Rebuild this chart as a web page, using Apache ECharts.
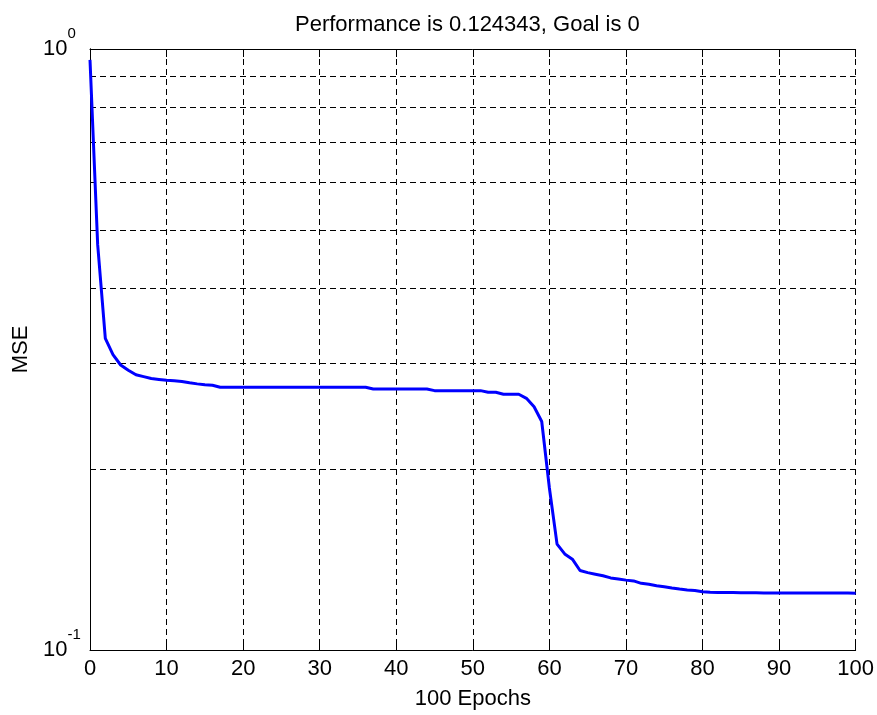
<!DOCTYPE html>
<html><head><meta charset="utf-8">
<script src="https://cdn.jsdelivr.net/npm/echarts@6/dist/echarts.min.js"></script>
<style>html,body{margin:0;padding:0;background:#fff}#c{width:877px;height:715px}</style>
</head><body><div id="c"></div><script>
const titleText = 'Performance is 0.124343, Goal is 0';
const xName = '100 Epochs';
const yName = 'MSE';
// MSE per epoch, 0..100
const mse = [
  0.959, 0.473, 0.330, 0.310, 0.298, 0.292, 0.287, 0.285, 0.283, 0.282,
  0.281, 0.2805, 0.2797, 0.2783, 0.2772, 0.2762, 0.2757, 0.2736, 0.2736, 0.2736,
  0.2736, 0.2736, 0.2736, 0.2736, 0.2736, 0.2736, 0.2736, 0.2736, 0.2736, 0.2736,
  0.2736, 0.2736, 0.2736, 0.2736, 0.2736, 0.2736, 0.2736, 0.2718, 0.2718, 0.2718,
  0.2718, 0.2718, 0.2718, 0.2718, 0.2718, 0.2701, 0.2701, 0.2701, 0.2701, 0.2701,
  0.2701, 0.2701, 0.2684, 0.2684, 0.2664, 0.2664, 0.2664, 0.2623, 0.2540, 0.2400,
  0.1860, 0.1500, 0.1445, 0.1416, 0.1356, 0.1345, 0.1337, 0.1329, 0.1318, 0.1313,
  0.1307, 0.1303, 0.1291, 0.1286, 0.1279, 0.1274, 0.1268, 0.1263, 0.1259, 0.1256,
  0.1250, 0.1248, 0.1247, 0.1246, 0.1246, 0.1245, 0.1245, 0.1245, 0.1244, 0.1244,
  0.1244, 0.1244, 0.1244, 0.1244, 0.12435, 0.12435, 0.12435, 0.12435, 0.12435, 0.12435,
  0.124343
];
const epochs = mse.map((_, i) => i);
const yGrid = [0.2, 0.3, 0.4, 0.5, 0.6, 0.7, 0.8, 0.9];
const xMin = 0, xMax = 100, xStep = 10;
const yMin = 0.1, yMax = 1;

const FONT = "'Liberation Sans', Arial, sans-serif";
const dash = [6, 4];
const chart = echarts.init(document.getElementById('c'), null, {renderer: 'canvas'});
chart.setOption({
  animation: false,
  backgroundColor: '#fff',
  title: {
    text: titleText, left: 290, top: 9,
    textStyle: {fontSize: 22, fontWeight: 'normal', color: '#000', fontFamily: FONT}
  },
  grid: {left: 90, right: 19, top: 49, bottom: 62},
  xAxis: [{
    type: 'value', min: xMin, max: xMax, interval: xStep, position: 'bottom',
    axisLine: {show: true, lineStyle: {color: '#000', width: 1}},
    axisTick: {show: true, inside: true, length: 8, lineStyle: {color: '#000'}},
    axisLabel: {color: '#000', fontSize: 22, fontFamily: FONT, margin: 8},
    splitLine: {show: true, lineStyle: {type: dash, color: '#000', width: 1}},
    name: xName, nameLocation: 'middle', nameGap: 38,
    nameTextStyle: {fontSize: 22, color: '#000', fontFamily: FONT}
  }, {
    type: 'value', min: xMin, max: xMax, interval: xStep, position: 'top',
    axisLine: {show: true, onZero: false, lineStyle: {color: '#000', width: 1}},
    axisTick: {show: true, inside: true, length: 8, lineStyle: {color: '#000'}},
    axisLabel: {show: false}, splitLine: {show: false}
  }],
  yAxis: [{
    type: 'log', logBase: 10, min: yMin, max: yMax,
    axisLine: {show: true, lineStyle: {color: '#000', width: 1}},
    axisTick: {show: false},
    axisLabel: {
      align: 'left', margin: 47, verticalAlign: 'middle',
      formatter: v => '{b|10}{s|' + Math.round(Math.log10(v)) + '}',
      rich: {
        b: {fontSize: 22, lineHeight: 46, color: '#000', fontFamily: FONT, verticalAlign: 'middle'},
        s: {fontSize: 15, lineHeight: 15, color: '#000', fontFamily: FONT, verticalAlign: 'top'}
      }
    },
    splitLine: {show: false},
    name: yName, nameLocation: 'middle', nameGap: 58,
    nameTextStyle: {fontSize: 22, color: '#000', fontFamily: FONT}
  }, {
    type: 'log', logBase: 10, min: yMin, max: yMax, position: 'right',
    axisLine: {show: true, lineStyle: {color: '#000', width: 1}},
    axisTick: {show: false}, axisLabel: {show: false}, splitLine: {show: false}
  }],
  series: [{
    type: 'line', data: [], z: 1, silent: true,
    markLine: {
      silent: true, symbol: ['none', 'none'], label: {show: false},
      lineStyle: {type: dash, color: '#000', width: 1},
      data: yGrid.map(v => ({yAxis: v}))
    }
  }, {
    type: 'line', z: 5,
    data: epochs.map((e, i) => [e, mse[i]]),
    showSymbol: false, symbol: 'none',
    lineStyle: {color: '#0000ff', width: 3},
    itemStyle: {color: '#0000ff'}
  }]
});
</script></body></html>
